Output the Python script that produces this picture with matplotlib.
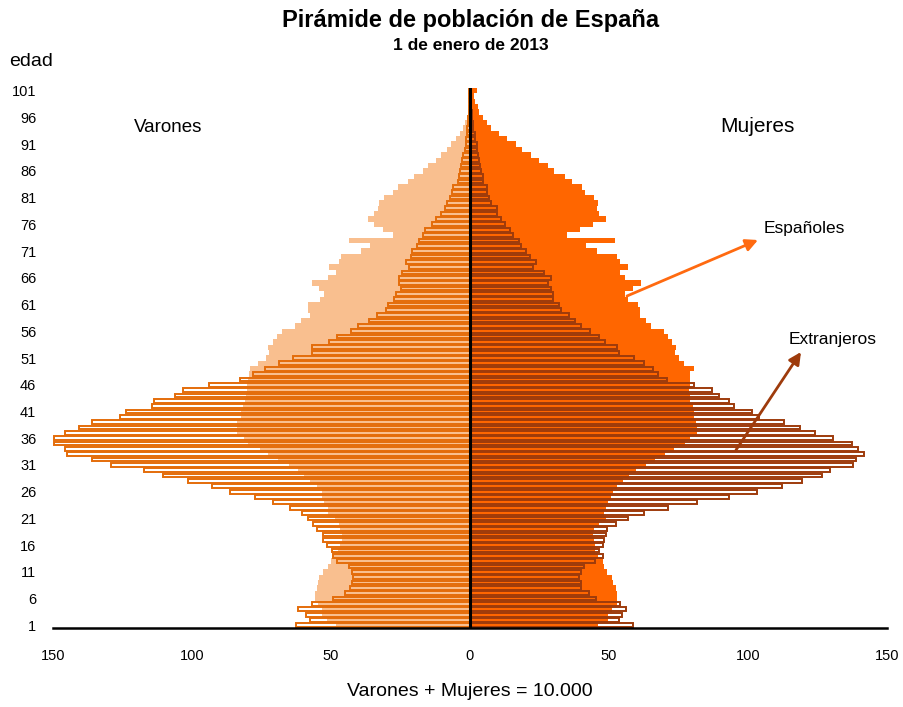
import matplotlib
matplotlib.use("Agg")
from matplotlib import pyplot as plt

# ages 0..100 shown with labels 1..101, values per 10.000 inhabitants
edades = list(range(1, 102))

esp_varones = [48.2, 51.6, 53.4, 53.4, 54.6, 55.8, 55.8, 55.2, 54.6, 54.2,
               53.0, 51.0, 50.0, 49.8, 47.4, 46.8, 46.2, 46.2, 46.8, 47.0,
               48.6, 51.0, 51.0, 52.5, 53.4, 53.4, 54.9, 57.6, 59.7, 61.7,
               65.0, 69.0, 72.7, 75.5, 79.8, 81.4, 83.7, 83.9, 83.8, 82.5,
               82.3, 81.8, 81.0, 80.5, 80.2, 80.2, 80.0, 79.5, 79.0, 76.3,
               73.4, 72.3, 72.7, 70.9, 69.4, 67.6, 62.9, 60.8, 57.6, 58.3,
               58.3, 54.0, 52.5, 54.3, 56.8, 51.1, 48.2, 50.7, 47.0, 46.4,
               39.2, 36.0, 43.5, 27.8, 31.2, 34.5, 36.7, 34.5, 33.0, 32.6,
               30.9, 27.6, 25.8, 22.2, 20.1, 17.0, 15.0, 12.2, 10.4, 8.4,
               6.8, 5.0, 3.6, 2.4, 1.7, 1.2, 0.7, 0.5, 0.5, 0.3,
               0.3]

esp_mujeres = [46.2, 49.8, 49.8, 50.9, 52.8, 52.8, 52.8, 52.4, 51.6, 51.0,
               49.2, 48.2, 47.9, 46.0, 45.0, 45.0, 44.7, 44.4, 44.6, 46.5,
               48.9, 48.2, 48.9, 49.8, 50.6, 51.3, 52.8, 55.2, 57.2, 59.7,
               63.2, 66.5, 70.0, 73.5, 77.5, 79.0, 81.7, 81.8, 81.2, 80.6,
               80.6, 80.3, 79.1, 79.1, 78.9, 79.1, 79.1, 79.1, 80.6, 77.0,
               75.2, 73.7, 74.1, 72.8, 71.3, 69.8, 65.1, 63.3, 61.2, 61.2,
               60.6, 56.7, 55.8, 58.8, 61.5, 55.8, 54.0, 56.7, 54.0, 52.8,
               45.6, 41.7, 52.2, 35.0, 39.6, 44.1, 48.9, 46.5, 45.6, 46.0,
               44.6, 41.4, 40.3, 36.7, 34.3, 30.2, 28.1, 24.8, 21.9, 18.7,
               16.4, 13.2, 10.4, 7.6, 6.0, 4.7, 3.2, 3.0, 1.7, 1.4,
               2.4]

ext_varones = [62.7, 57.6, 59.0, 62.0, 57.0, 49.2, 45.0, 43.2, 42.6, 42.0,
               42.6, 43.4, 47.7, 49.2, 49.8, 51.6, 53.0, 53.0, 55.2, 56.4,
               58.2, 60.6, 64.7, 70.7, 77.3, 86.3, 92.9, 101.3, 110.3, 117.4,
               129.2, 135.8, 145.1, 145.7, 149.8, 149.8, 145.7, 140.8, 136.0, 125.9,
               123.6, 114.3, 113.7, 106.2, 103.1, 94.0, 82.8, 78.2, 73.9, 68.7,
               63.5, 57.0, 57.0, 50.6, 47.7, 42.9, 40.2, 36.3, 33.6, 30.2,
               29.4, 27.2, 26.6, 24.8, 25.5, 25.5, 24.3, 21.9, 23.0, 21.3,
               20.7, 18.9, 18.3, 17.0, 16.1, 13.8, 12.2, 10.4, 9.0, 8.2,
               7.2, 6.6, 6.0, 4.4, 4.1, 3.6, 3.2, 2.8, 2.4, 1.9,
               1.6, 1.4, 1.2, 1.0, 0.8, 0.6, 0.5, 0.4, 0.3, 0.2,
               0.2]

ext_mujeres = [58.8, 53.7, 54.6, 56.1, 53.9, 45.3, 42.9, 39.8, 39.8, 39.2,
               39.8, 41.1, 45.0, 47.7, 46.5, 47.7, 48.2, 48.8, 49.2, 52.5,
               57.0, 62.7, 71.3, 81.5, 93.3, 103.1, 112.1, 119.3, 126.5, 129.4,
               137.7, 138.8, 141.8, 139.4, 137.3, 130.6, 124.1, 118.6, 112.8, 103.8,
               101.4, 95.1, 93.1, 89.6, 87.2, 80.7, 70.9, 67.6, 66.0, 62.6,
               59.0, 53.7, 52.8, 48.7, 46.5, 43.2, 39.8, 37.9, 35.7, 32.6,
               31.9, 30.0, 30.0, 29.0, 28.2, 29.0, 26.6, 22.8, 23.7, 21.6,
               20.1, 18.3, 17.7, 15.6, 14.4, 12.6, 11.2, 9.8, 9.6, 7.4,
               7.0, 6.0, 6.0, 4.8, 4.6, 3.8, 3.6, 3.4, 3.0, 2.4,
               2.4, 1.8, 1.8, 1.2, 1.0, 0.8, 0.6, 0.5, 0.4, 0.3,
               0.3]

xticks = [-150, -100, -50, 0, 50, 100, 150]

plt.rcParams['font.family'] = ['Liberation Sans', 'DejaVu Sans']

W, H = 904, 707
fig = plt.figure(figsize=(W / 100, H / 100), dpi=100)
ax = fig.add_axes([53 / W, 79 / H, 834 / W, 540 / H])

# spanish population (filled)
ax.barh(edades, [-v for v in esp_varones], height=1.0, color='#F9BF8F', linewidth=0)
ax.barh(edades, esp_mujeres, height=1.0, color='#FF6600', linewidth=0)
# foreigners (outlined)
ax.barh(edades, [-v for v in ext_varones], height=0.7, fill=False,
        edgecolor='#E46C0A', linewidth=1.4)
ax.barh(edades, ext_mujeres, height=0.7, fill=False,
        edgecolor='#9E3B0C', linewidth=1.4)

ax.axvline(0, color='black', lw=2.2)

ax.set_xlim(-150, 150)
ax.set_ylim(0.5, 101.5)
for side in ['top', 'right', 'left']:
    ax.spines[side].set_visible(False)
ax.spines['bottom'].set_linewidth(1.8)

ax.set_yticks(list(range(1, 102, 5)))
ax.set_xticks(xticks)
ax.set_xticklabels([str(abs(t)) for t in xticks])
ax.tick_params(axis='y', length=0, pad=12, labelsize=10.5)
ax.tick_params(axis='x', length=0, pad=15, labelsize=10.5)

def ftxt(x, y, s, **kw):
    fig.text(x / W, 1 - y / H, s, ha='center', va='center', **kw)

ftxt(471, 20, 'Pirámide de población de España', fontsize=17, fontweight='bold')
ftxt(471, 45, '1 de enero de 2013', fontsize=12.5, fontweight='bold')
fig.text(9 / W, 1 - 61 / H, 'edad', ha='left', va='center', fontsize=14)
ftxt(168, 127, 'Varones', fontsize=13.5)
ftxt(757, 127, 'Mujeres', fontsize=15)
ftxt(804, 229, 'Españoles', fontsize=12.5)
ftxt(833, 340, 'Extranjeros', fontsize=12.5)
ftxt(470, 692, 'Varones + Mujeres = 10.000', fontsize=14)

# arrows pointing to the legend words
ax.annotate('', xy=(758, H - 240), xytext=(627, H - 296), xycoords='figure pixels',
            textcoords='figure pixels',
            arrowprops=dict(arrowstyle='-|>', color='#FF6A10', lw=2, mutation_scale=18,
                            shrinkA=0, shrinkB=0))
ax.annotate('', xy=(801, H - 352), xytext=(736, H - 450), xycoords='figure pixels',
            textcoords='figure pixels',
            arrowprops=dict(arrowstyle='-|>', color='#9E3B0C', lw=2, mutation_scale=18,
                            shrinkA=0, shrinkB=0))

fig.savefig('out.png', dpi=100)
